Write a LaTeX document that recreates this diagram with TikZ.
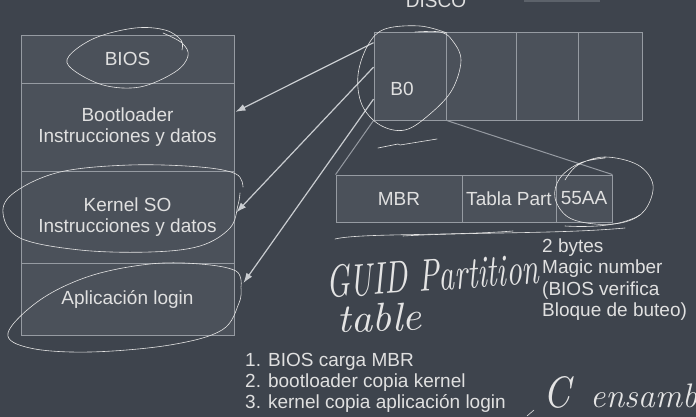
\documentclass[tikz,border=0pt]{standalone}
\usepackage{fontspec}
\newfontfamily\sansf{Liberation Sans}
\usetikzlibrary{arrows.meta,calc}
\definecolor{bg}{HTML}{3E444D}
\definecolor{boxfill}{HTML}{4B515A}
\definecolor{boxline}{HTML}{969BA2}
\definecolor{txt}{HTML}{E0E0E0}
\definecolor{arrowc}{HTML}{C9CCD0}
\definecolor{handc}{HTML}{E4E4E4}
\definecolor{barc}{HTML}{5C626A}
\tikzset{
  cell/.style={draw=boxline, fill=boxfill, line width=0.9pt, inner sep=0pt, text=txt,
    font=\sansf\fontsize{19}{20.5}\selectfont, align=center},
  lbl/.style={text=txt, font=\sansf\fontsize{19}{21}\selectfont, inner sep=0pt},
  link/.style={draw=arrowc, line width=1.2pt, -{Latex[length=10pt,width=7pt]}},
  edgeline/.style={draw=boxline, line width=1pt},
  hand/.style={draw=handc, line width=0.6pt, line cap=round},
  handtxt/.style={text=handc, inner sep=0pt},
}
\begin{document}
\begin{tikzpicture}[x=1pt,y=-1pt]
\fill[bg] (0,0) rectangle (696,417);
\useasboundingbox (0,0) rectangle (696,417);
\clip (0,0) rectangle (696,417);

% left memory stack
\node[cell, minimum width=213pt, minimum height=48pt] (bios) at (127.5,59) {BIOS};
\node[cell, minimum width=213pt, minimum height=88pt] (boot) at (127.5,127) {Bootloader\\Instrucciones y datos};
\node[cell, minimum width=213pt, minimum height=92pt] (kern) at (127.5,217) {Kernel SO\\Instrucciones y datos};
\node[cell, minimum width=213pt, minimum height=72pt] (app) at (127.5,299) {Aplicación login};

% disk
\node[lbl, anchor=base] (disco) at (436,8) {DISCO};
\node[fill=barc, minimum width=76pt, minimum height=10pt, inner sep=0pt] (bar) at (562,-3) {};
\node[cell, minimum width=72pt, minimum height=88pt] (b0) at (410,76) {};
\node[lbl] (b0lbl) at (402,89) {B0};
\node[cell, minimum width=70pt, minimum height=88pt] (d1) at (481,76) {};
\node[cell, minimum width=62pt, minimum height=88pt] (d2) at (547,76) {};
\node[cell, minimum width=64pt, minimum height=88pt] (d3) at (610,76) {};

% MBR row
\node[cell, minimum width=126pt, minimum height=47pt] (mbr) at (399,198.5) {MBR};
\node[cell, minimum width=94pt, minimum height=47pt] (tpart) at (509,198.5) {Tabla Part};
\node[cell, minimum width=56pt, minimum height=47pt] (aa) at (584,198.5) {55AA};
\draw[edgeline] (b0.south west) -- (mbr.north west);
\draw[edgeline] (b0.south east) -- (aa.north east);

% arrows
\draw[link] ($(b0.north west)!0.125!(b0.south west)$) -- ($(boot.north east)!0.33!(boot.south east)+(1,0)$);
\draw[link] ($(b0.north west)!0.4!(b0.south west)$) -- ($(kern.north east)!0.45!(kern.south east)+(2,0)$);
\draw[link] ($(b0.north west)!0.76!(b0.south west)$) -- ($(app.north east)!0.28!(app.south east)+(9,0)$);

% right notes
\node[lbl, anchor=base west] (n1) at (542,252) {2 bytes};
\node[lbl, anchor=base west] (n2) at (542,273.5) {Magic number};
\node[lbl, anchor=base west] (n3) at (542,295) {(BIOS verifica};
\node[lbl, anchor=base west] (n4) at (542,316.5) {Bloque de buteo)};

% steps
\node[lbl, anchor=base west] (s1) at (245,366) {1. BIOS carga MBR};
\node[lbl, anchor=base west] (s2) at (245,387) {2. bootloader copia kernel};
\node[lbl, anchor=base west] (s3) at (245,408) {3. kernel copia aplicación login};

% handwritten marks
\draw[hand] plot[smooth, tension=0.6] coordinates {(163,33) (182,43) (188,56) (175,72) (140,87) (103,85) (72,69) (69,56) (95,38) (135,28) (165,30) (181,40) (182,50)};
\draw[hand] plot[smooth, tension=0.6] coordinates {(243,187) (236,174) (200,167) (130,165) (60,172) (15,192) (3,213) (20,238) (80,250) (150,252) (200,246) (230,228) (238,205) (240,193)};
\draw[hand] plot[smooth, tension=0.6] coordinates {(241,287) (236,271) (200,264) (150,264) (90,276) (40,300) (8,333) (30,348) (90,352) (170,345) (222,330) (239,303) (241,288)};
\draw[hand] plot[smooth, tension=0.6] coordinates {(415,32) (440,32) (452,40) (461,60) (452,90) (430,114) (405,130) (380,125) (362,105) (358,75) (368,45) (385,29) (420,26) (447,33)};
\draw[hand] plot[smooth, tension=0.6] coordinates {(565,180) (578,165) (605,157) (638,165) (653,185) (645,210) (625,222) (595,224) (568,217) (555,198) (560,178) (580,163) (605,158)};
\draw[hand] (378,148) -- (398,144) -- (400,145) -- (437,139);
\draw[hand] (335,239) .. controls (360,233) and (450,236) .. (513,231);
\draw[hand] (403,236) .. controls (470,232) and (560,234) .. (625,228);
\draw[hand] (565,226) .. controls (600,228) and (625,224) .. (640,215);
\draw[hand] (527,416) -- (534,410);

\node[handtxt, anchor=base west, rotate=4] (guid) at (327,298) {\resizebox{213pt}{32pt}{\itshape GUID Partition}};
\node[handtxt, anchor=base west, rotate=2] (table) at (337,333) {\resizebox{85pt}{28pt}{\itshape table}};
\node[handtxt, anchor=base west] (cc) at (543,407) {\resizebox{27pt}{31pt}{\itshape C}};
\node[handtxt, anchor=base west] (ens) at (590,407) {\fontsize{34}{34}\selectfont\itshape ensamblador};
\end{tikzpicture}
\end{document}
